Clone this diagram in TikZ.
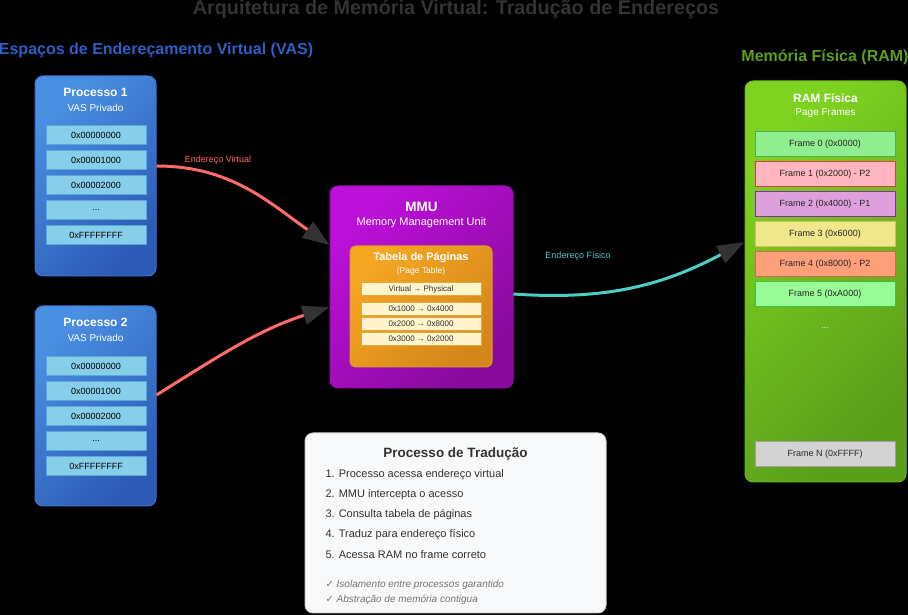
\documentclass[tikz,border=0pt]{standalone}
\usepackage{fontspec}
\setmainfont{Liberation Sans}
\newfontfamily\symfont{DejaVu Sans}
\usetikzlibrary{arrows.meta,calc}

\definecolor{titlegray}{HTML}{333333}
\definecolor{vasblue}{HTML}{2D5FC4}
\definecolor{ramgreen}{HTML}{5A9E1A}
\definecolor{vastop}{HTML}{4A90E2}
\definecolor{vasbot}{HTML}{2C5AB5}
\definecolor{vasline}{HTML}{3A74D4}
\definecolor{cellfill}{HTML}{87CEEB}
\definecolor{cellline}{HTML}{5AA8D6}
\definecolor{mmutop}{HTML}{BD10DA}
\definecolor{mmubot}{HTML}{880A9C}
\definecolor{mmuline}{HTML}{9C0CB4}
\definecolor{pttop}{HTML}{F5A623}
\definecolor{ptbot}{HTML}{D4861A}
\definecolor{ptline}{HTML}{E09A2A}
\definecolor{rowfill}{HTML}{FFF4CC}
\definecolor{rowline}{HTML}{E8A840}
\definecolor{ramtop}{HTML}{7ED321}
\definecolor{rambot}{HTML}{5A9E1A}
\definecolor{ramline}{HTML}{6AB41E}
\definecolor{virtred}{HTML}{FF6B6B}
\definecolor{phystal}{HTML}{4ECDC4}
\definecolor{headgray}{HTML}{333333}
\definecolor{notefill}{HTML}{F8F9FA}
\definecolor{noteline}{HTML}{CCCCCC}

\tikzset{
  bigbox/.style={rounded corners=8pt, line width=1pt, inner sep=0pt},
  vasbox/.style={bigbox, draw=vasline, top color=vastop, bottom color=vasbot, shading angle=45, minimum width=121pt, minimum height=200pt},
  vascell/.style={draw=cellline, fill=cellfill, line width=0.8pt, minimum width=100pt, minimum height=19pt, inner sep=0pt, font=\fontsize{9}{10}\selectfont},
  boxtitle/.style={text=white, font=\bfseries\fontsize{12}{14}\selectfont},
  boxsub/.style={text=white, font=\fontsize{10}{12}\selectfont},
  ptrow/.style={draw=rowline, fill=rowfill, line width=0.6pt, minimum width=120pt, minimum height=13.5pt, inner sep=0pt, text=titlegray, font=\fontsize{8}{9}\selectfont},
  ramframe/.style={line width=1pt, minimum width=140pt, minimum height=25pt, inner sep=0pt, text=black!85, font=\fontsize{9}{10}\selectfont},
  stepline/.style={anchor=west, text=titlegray, font=\fontsize{11}{13}\selectfont},
  checknote/.style={anchor=west, text=black!55, font=\itshape\fontsize{10}{11}\selectfont},
  virtarrow/.style={line width=3pt, draw=virtred, -{Triangle[length=27pt,width=19pt,color=headgray]}},
  physarrow/.style={line width=3pt, draw=phystal, -{Triangle[length=27pt,width=19pt,color=headgray]}},
}

\begin{document}
\begin{tikzpicture}[x=1pt,y=1pt]
		\useasboundingbox (0,0) rectangle (908,615);
		\fill[black] (0,0) rectangle (908,615);

		\node[text=titlegray, font=\bfseries\fontsize{19.8}{22}\selectfont] (title) at (456,606) {Arquitetura de Memória Virtual: Tradução de Endereços};
		\node[text=vasblue, font=\bfseries\fontsize{16}{18}\selectfont] (vastitle) at (156,565) {Espaços de Endereçamento Virtual (VAS)};
		\node[text=ramgreen, font=\bfseries\fontsize{16}{18}\selectfont] (ramtitle) at (825,558) {Memória Física (RAM)};

		% Processo 1
		\node[vasbox] (p1) at (95.5,439) {};
		\node[boxtitle] (p1t) at (95.5,523) {Processo 1};
		\node[boxsub] (p1s) at (95.5,507) {VAS Privado};
		\node[vascell] (p1a) at (96,480) {0x00000000};
		\node[vascell] (p1b) at (96,455) {0x00001000};
		\node[vascell] (p1c) at (96,430) {0x00002000};
		\node[vascell] (p1d) at (96,405) {...};
		\node[vascell] (p1e) at (96,380) {0xFFFFFFFF};

		% Processo 2
		\node[vasbox] (p2) at (95.5,209) {};
		\node[boxtitle] (p2t) at (95.5,293) {Processo 2};
		\node[boxsub] (p2s) at (95.5,277) {VAS Privado};
		\node[vascell] (p2a) at (96,249) {0x00000000};
		\node[vascell] (p2b) at (96,224) {0x00001000};
		\node[vascell] (p2c) at (96,199) {0x00002000};
		\node[vascell] (p2d) at (96,174) {...};
		\node[vascell] (p2e) at (96,149) {0xFFFFFFFF};

		% MMU
		\node[bigbox, draw=mmuline, top color=mmutop, bottom color=mmubot, shading angle=45, minimum width=183pt, minimum height=202pt] (mmu) at (421.5,328) {};
		\node[text=white, font=\bfseries\fontsize{13.5}{15}\selectfont] (mmut) at (421.5,408) {MMU};
		\node[text=white, font=\fontsize{11}{13}\selectfont] (mmus) at (421.5,392) {Memory Management Unit};

		\node[bigbox, rounded corners=6pt, draw=ptline, top color=pttop, bottom color=ptbot, shading angle=45, minimum width=142pt, minimum height=121pt] (pt) at (421,308.5) {};
		\node[text=white, font=\bfseries\fontsize{11}{13}\selectfont] (ptt) at (421,357) {Tabela de Páginas};
		\node[text=white, font=\fontsize{8.5}{10}\selectfont] (pts) at (421,344) {(Page Table)};
		\node[ptrow] (ph) at (421,326) {Virtual → Physical};
		\node[ptrow] (pr1) at (421,306) {0x1000 → 0x4000};
		\node[ptrow] (pr2) at (421,291) {0x2000 → 0x8000};
		\node[ptrow] (pr3) at (421,276) {0x3000 → 0x2000};

		% RAM
		\node[bigbox, draw=ramline, top color=ramtop, bottom color=rambot, shading angle=45, minimum width=161pt, minimum height=401pt] (ram) at (825.5,333.5) {};
		\node[boxtitle] (ramt) at (825.5,517) {RAM Física};
		\node[boxsub] (rams) at (825.5,502) {Page Frames};
		\node[ramframe, draw={rgb,255:red,76;green,175;blue,80}, fill={rgb,255:red,144;green,238;blue,144}] (f0) at (825,471) {Frame 0 (0x0000)};
		\node[ramframe, draw={rgb,255:red,220;green,60;blue,70}, fill={rgb,255:red,255;green,182;blue,193}] (f1) at (825,441) {Frame 1 (0x2000) - P2};
		\node[ramframe, draw={rgb,255:red,142;green,42;blue,158}, fill={rgb,255:red,221;green,160;blue,221}] (f2) at (825,411) {Frame 2 (0x4000) - P1};
		\node[ramframe, draw={rgb,255:red,212;green,192;blue,96}, fill={rgb,255:red,240;green,230;blue,140}] (f3) at (825,381) {Frame 3 (0x6000)};
		\node[ramframe, draw={rgb,255:red,224;green,96;blue,80}, fill={rgb,255:red,255;green,160;blue,122}] (f4) at (825,351) {Frame 4 (0x8000) - P2};
		\node[ramframe, draw={rgb,255:red,64;green,192;blue,64}, fill={rgb,255:red,152;green,251;blue,152}] (f5) at (825,321) {Frame 5 (0xA000)};
		\node[text=white!85!green, font=\fontsize{9}{10}\selectfont] (fdots) at (825,287) {...};
		\node[ramframe, draw={rgb,255:red,160;green,160;blue,160}, fill={rgb,255:red,211;green,211;blue,211}] (fn) at (825,161) {Frame N (0xFFFF)};

		% Processo de Traducao
		\node[bigbox, draw=noteline, fill=notefill, minimum width=301pt, minimum height=180pt] (note) at (455.5,92) {};
		\node[text=titlegray, font=\bfseries\fontsize{13.5}{15}\selectfont] (notet) at (455.5,161) {Processo de Tradução};
		\node[stepline] (s1) at (322,140) {1. Processo acessa endereço virtual};
		\node[stepline] (s2) at (322,120) {2. MMU intercepta o acesso};
		\node[stepline] (s3) at (322,100) {3. Consulta tabela de páginas};
		\node[stepline] (s4) at (322,80) {4. Traduz para endereço físico};
		\node[stepline] (s5) at (322,60) {5. Acessa RAM no frame correto};
		\node[checknote] (c1) at (322,30) {{\symfont\upshape\fontsize{10}{11}\selectfont ✓} Isolamento entre processos garantido};
		\node[checknote] (c2) at (322,15) {{\symfont\upshape\fontsize{10}{11}\selectfont ✓} Abstração de memória contigua};

		% setas
		\draw[virtarrow] ($(p1.east)+(0,10)$) to[out=0,in=145] ($(mmu.west)+(0,42)$);
		\node[text=virtred, font=\fontsize{9}{10}\selectfont] (vlabel) at (218,455) {Endereço Virtual};
		\draw[virtarrow] ($(p2.east)+(0,11)$) to[out=32,in=198] ($(mmu.west)+(0,-20)$);
		\draw[physarrow] ($(mmu.east)+(0,-7)$) to[out=-4,in=208] ($(ram.west)+(0,39.5)$);
		\node[text=phystal, font=\fontsize{9}{10}\selectfont] (plabel) at (578,359) {Endereço Físico};
	\end{tikzpicture}
\end{document}
